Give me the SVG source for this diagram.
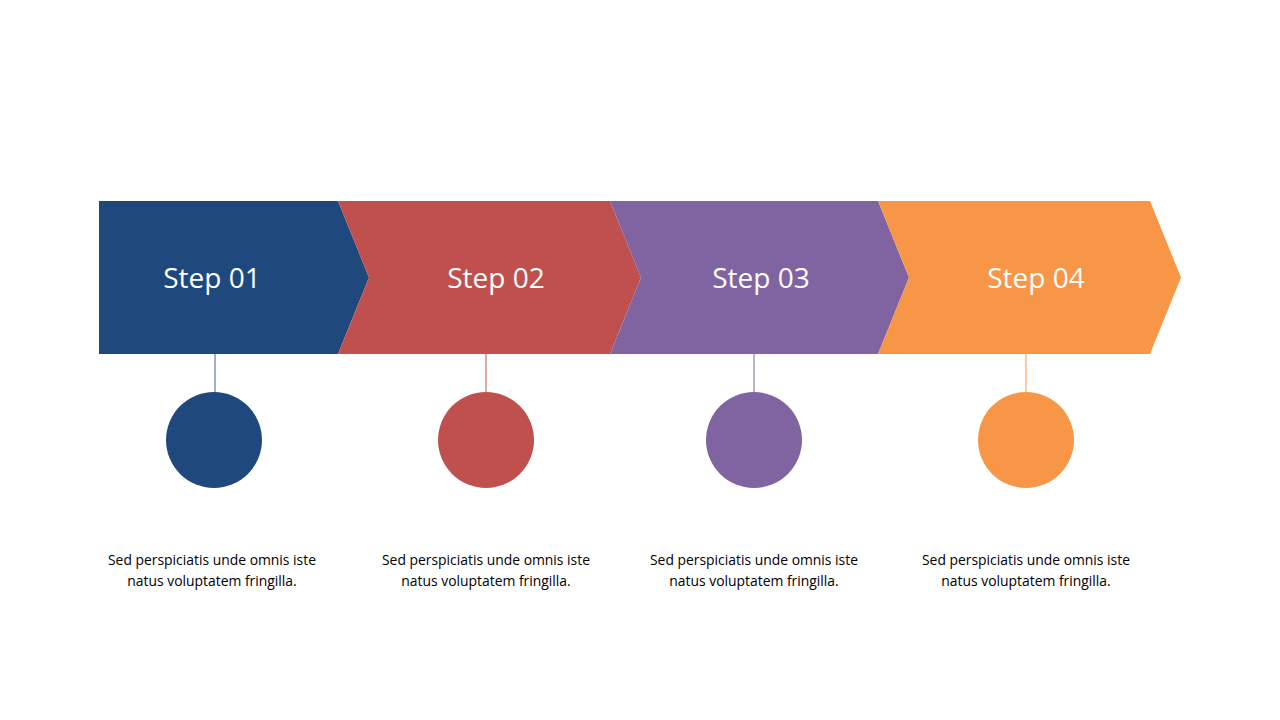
<svg xmlns="http://www.w3.org/2000/svg" width="1280" height="720" viewBox="0 0 1280 720">
<style>
.step{font-family:"Open Sans","Noto Sans",sans-serif;font-size:28px;fill:#ffffff;text-anchor:middle}
.desc{font-family:"Open Sans","Noto Sans",sans-serif;font-size:13.9px;fill:#000000;text-anchor:middle}
</style>
<rect width="1280" height="720" fill="#ffffff"/>
<g id="connectors">
<line x1="215" y1="354" x2="215" y2="393" stroke="#4a5f8e" stroke-width="1"/>
<line x1="486" y1="354" x2="486" y2="393" stroke="#c0504d" stroke-width="1"/>
<line x1="754" y1="354" x2="754" y2="393" stroke="#8064a2" stroke-width="1"/>
<line x1="1026" y1="354" x2="1026" y2="393" stroke="#f79646" stroke-width="1"/>
</g>
<g id="step1">
<polygon points="99,201 338,201 369,277.5 338,354 99,354" fill="#1f497d"/>
<text class="step" x="212" y="288">Step 01</text>
<circle cx="214" cy="440" r="48" fill="#1f497d"/>
<text class="desc" x="212" y="565">Sed perspiciatis unde omnis iste</text>
<text class="desc" x="212" y="586">natus voluptatem fringilla.</text>
</g>
<g id="step2">
<polygon points="338,201 610,201 641,277.5 610,354 338,354 369,277.5" fill="#c0504d"/>
<text class="step" x="496" y="288">Step 02</text>
<circle cx="486" cy="440" r="48" fill="#c0504d"/>
<text class="desc" x="486" y="565">Sed perspiciatis unde omnis iste</text>
<text class="desc" x="486" y="586">natus voluptatem fringilla.</text>
</g>
<g id="step3">
<polygon points="610,201 878,201 909,277.5 878,354 610,354 641,277.5" fill="#8064a2"/>
<text class="step" x="761" y="288">Step 03</text>
<circle cx="754" cy="440" r="48" fill="#8064a2"/>
<text class="desc" x="754" y="565">Sed perspiciatis unde omnis iste</text>
<text class="desc" x="754" y="586">natus voluptatem fringilla.</text>
</g>
<g id="step4">
<polygon points="878,201 1150,201 1181,277.5 1150,354 878,354 909,277.5" fill="#f79646"/>
<text class="step" x="1036" y="288">Step 04</text>
<circle cx="1026" cy="440" r="48" fill="#f79646"/>
<text class="desc" x="1026" y="565">Sed perspiciatis unde omnis iste</text>
<text class="desc" x="1026" y="586">natus voluptatem fringilla.</text>
</g>
</svg>
